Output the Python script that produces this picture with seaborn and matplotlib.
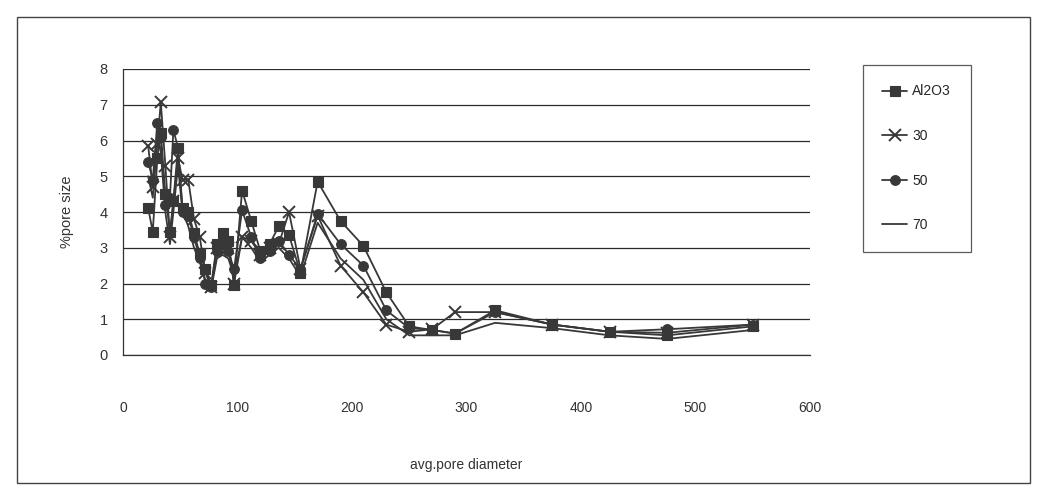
import numpy as np
import pandas as pd
import matplotlib
matplotlib.use("Agg")
import matplotlib.pyplot as plt
import seaborn as sns
from matplotlib.patches import Rectangle

# ---- data ----
diameter = [22, 26, 30, 33, 37, 41, 44, 48, 52, 57, 62, 67, 72, 77, 82, 87, 92, 97,
            104, 112, 120, 128, 136, 145, 155, 170, 190, 210, 230, 250, 270, 290,
            325, 375, 425, 475, 550]
al2o3 = [4.1, 3.45, 5.5, 6.2, 4.5, 3.45, 4.3, 5.8, 4.1, 4.0, 3.4, 2.85, 2.4, 1.95,
         3.1, 3.4, 3.2, 1.95, 4.6, 3.75, 2.9, 3.1, 3.6, 3.35, 2.3, 4.85, 3.75, 3.05,
         1.75, 0.8, 0.7, 0.6, 1.25, 0.85, 0.65, 0.55, 0.8]
s30 = [5.85, 4.7, 5.9, 7.07, 5.3, 3.3, 4.3, 5.5, 4.9, 4.9, 3.8, 3.3, 2.3, 1.9,
       3.0, 3.0, 3.0, 2.0, 3.3, 3.2, 2.8, 3.0, 3.1, 4.0, 2.4, 3.9, 2.5, 1.75,
       0.85, 0.65, 0.72, 1.2, 1.2, 0.85, 0.65, 0.62, 0.85]
s50 = [5.4, 4.9, 6.5, 6.1, 4.2, 4.4, 6.3, 5.8, 4.0, 3.9, 3.3, 2.7, 2.0, 1.9,
       2.9, 3.1, 2.9, 2.4, 4.05, 3.3, 2.7, 2.9, 3.2, 2.8, 2.4, 3.95, 3.1, 2.5,
       1.25, 0.75, 0.7, 0.6, 1.2, 0.85, 0.65, 0.72, 0.85]
s70 = [5.0, 4.4, 6.0, 5.7, 4.0, 3.1, 4.0, 5.3, 4.0, 3.6, 3.0, 2.6, 2.1, 1.85,
       2.7, 2.8, 2.7, 2.2, 3.3, 3.0, 2.6, 2.8, 3.0, 2.7, 2.2, 3.7, 2.7, 2.1,
       1.0, 0.55, 0.55, 0.55, 0.9, 0.75, 0.55, 0.45, 0.7]
series_names = ["Al2O3", "30", "50", "70"]
y_ticks = [0, 1, 2, 3, 4, 5, 6, 7, 8]
x_ticks = [0, 100, 200, 300, 400, 500, 600]

rows = []
for name, vals in zip(series_names, [al2o3, s30, s50, s70]):
    for xv, yv in zip(diameter, vals):
        rows.append({"d": xv, "v": yv, "series": name})
df = pd.DataFrame(rows)

sns.set_style("white")
plt.rcParams["font.family"] = ["Liberation Sans", "DejaVu Sans"]

fig = plt.figure(figsize=(10.4, 4.97), dpi=100)
ax = fig.add_axes([123 / 1040, 1 - 355 / 497, (810 - 123) / 1040, (355 - 69) / 497])

col = "#383838"
styles = {
    "Al2O3": dict(marker="s", markersize=7, markeredgewidth=0.8),
    "30": dict(marker="x", markersize=8, markeredgewidth=1.4),
    "50": dict(marker="o", markersize=7, markeredgewidth=0.8),
    "70": dict(marker=None),
}
handles = []
for name in series_names:
    sub = df[df["series"] == name]
    sns.lineplot(data=sub, x="d", y="v", ax=ax, color=col, linewidth=1.3,
                 markerfacecolor=col, markeredgecolor=col, estimator=None,
                 sort=False, **styles[name])
    h, = ax.plot([], [], color=col, linewidth=1.3, markerfacecolor=col,
                 markeredgecolor=col, **styles[name])
    handles.append(h)

ax.set_xlim(0, 600)
ax.set_ylim(0, 8)
ax.set_xticks(x_ticks)
ax.set_yticks(y_ticks)
ax.set_xticklabels([str(t) for t in x_ticks], fontsize=10, color="#333333")
ax.set_yticklabels([str(t) for t in y_ticks], fontsize=10.5, color="#333333")
ax.tick_params(axis="x", direction="out", length=5, width=0.8, pad=28, color="#333333")
ax.tick_params(axis="y", direction="inout", length=8, width=0.8, pad=7, color="#333333")
ax.yaxis.grid(True, color="#2a2a2a", linewidth=0.9)
ax.xaxis.grid(False)
for s in ["top", "right"]:
    ax.spines[s].set_visible(False)
for s in ["left", "bottom"]:
    ax.spines[s].set_color("#333333")
    ax.spines[s].set_linewidth(0.9)
ax.set_xlabel("avg.pore diameter", fontsize=10, color="#333333", labelpad=31)
ax.set_ylabel("%pore size", fontsize=10.5, color="#333333", labelpad=18)
if ax.get_legend() is not None:
    ax.get_legend().remove()

leg = fig.legend(handles, series_names, loc="upper left",
                 bbox_to_anchor=(863 / 1040, 1 - 65 / 497), borderaxespad=0,
                 frameon=True, fancybox=False, edgecolor="#333333",
                 fontsize=10, handlelength=1.8, labelspacing=2.2,
                 borderpad=1.4, handletextpad=0.35)
leg.get_frame().set_linewidth(0.9)

fig.patches.append(Rectangle((17 / 1040, 1 - 483 / 497), (1030 - 17) / 1040,
                             (483 - 17) / 497, transform=fig.transFigure,
                             fill=False, edgecolor="#444444", linewidth=1.0))

fig.savefig("out.png", dpi=100, facecolor="white")
